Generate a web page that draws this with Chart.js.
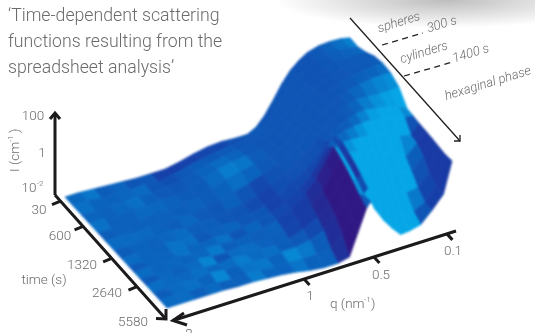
<!DOCTYPE html>
<html>
<head>
<meta charset="utf-8">
<title>Time-dependent scattering functions</title>
<script src="https://cdn.jsdelivr.net/npm/chart.js@4/dist/chart.umd.min.js"></script>
<style>
    html, body { margin: 0; padding: 0; background: #fff; }
    body {
        position: relative; width: 535px; height: 333px; overflow: hidden;
        background: radial-gradient(ellipse 170px 28px at 445px 0, #bdbdbd, rgba(255,255,255,0));
    }
    canvas { display: block; position: absolute; left: 0; top: 0; }
    #surfaceCanvas { filter: blur(.9px); }
</style>
</head>
<body>
<canvas id="surfaceCanvas" width="535" height="333"></canvas>
<canvas id="axesCanvas" width="535" height="333"></canvas>
<script>
// Position of every q column across the q axis (0 = q 2 nm-1, 1 = q 0.1 nm-1)
const qColumns = [0, .05, .1, .15, .2, .25, .3, .35, .4, .45, .5, .55, .6, .64, .67, .7, .715, .73, .76, .79, .82, .85, .89, .93, .97, 1];
// Position of every time row along the time axis (0 = 30 s, 1 = 5580 s)
const timeRows = [0, .08, .16, .24, .32, .4, .48, .56, .62, .68, .74, .8, .86, .93, 1];
// log10 of I (cm-1), one row per time
const logIntensity = [
    [-2.0, -2.0, -2.05, -2.1, -2.15, -2.2, -2.2, -2.2, -2.05, -1.85, -1.7, -1.65, -1.7, -1.7, -1.45, -.95, -.6, -.25, .5, 1.1, 1.5, 1.8, 1.98, 2.02, 1.98, 1.87],
    [-2.0, -1.95, -2.1, -2.0, -2.1, -2.05, -2.15, -2.0, -1.8, -1.65, -1.5, -1.4, -1.35, -1.25, -1.0, -.55, -.2, .1, .7, 1.2, 1.6, 1.85, 2.0, 2.02, 1.95, 1.85],
    [-2.0, -2.1, -1.95, -2.05, -1.95, -2.1, -1.95, -1.85, -1.6, -1.4, -1.25, -1.15, -1.1, -.95, -.65, -.2, .1, .4, .95, 1.35, 1.7, 1.9, 2.05, 2.1, 2.08, 2.05],
    [-2.0, -1.95, -2.1, -1.9, -2.05, -1.9, -1.95, -1.75, -1.5, -1.25, -1.05, -1.0, -.85, -.7, -.4, .05, .35, .65, 1.1, 1.5, 1.8, 2.0, 2.15, 2.2, 2.3, 2.33],
    [-2.0, -2.1, -1.95, -2.1, -1.9, -2.05, -1.85, -1.8, -1.55, -1.3, -1.1, -.95, -.75, -.55, -.25, .2, .5, .8, 1.25, 1.6, 1.9, 2.1, 2.25, 2.35, 2.42, 2.44],
    [-2.0, -1.9, -2.05, -1.9, -2.1, -1.9, -2.0, -1.85, -1.7, -1.5, -1.3, -1.05, -.7, -.45, -.1, .35, .65, .95, 1.4, 1.75, 2.0, 2.15, 2.3, 2.4, 2.42, 2.38],
    [-2.0, -2.05, -1.9, -2.05, -1.9, -2.05, -1.9, -2.0, -1.8, -1.7, -1.5, -1.15, -.7, -.4, -.05, .4, .75, 1.05, 1.5, 1.8, 2.0, 2.15, 2.1, 2.05, 2.05, 2.1],
    [-2.0, -1.9, -2.05, -1.85, -2.0, -1.95, -2.05, -1.85, -1.9, -1.7, -1.55, -1.2, -.7, -.3, .1, .55, .95, 1.25, 1.6, 1.85, 2.0, 2.05, 1.95, 1.85, 1.6, 1.4],
    [-2.0, -2.05, -1.9, -2.0, -1.85, -2.05, -1.9, -2.0, -1.85, -1.75, -1.55, -1.25, -.7, -.2, .4, 1.1, 1.5, 1.55, 1.7, 1.8, 1.85, 1.85, 1.75, 1.6, 1.4, 1.35],
    [-2.0, -1.9, -2.05, -1.85, -2.05, -1.9, -1.95, -2.0, -1.9, -1.8, -1.6, -1.25, -.6, .05, .8, 1.5, 1.38, 1.6, 1.6, 1.55, 1.5, 1.4, 1.2, .95, .8, 1.3],
    [-2.0, -2.05, -1.9, -2.05, -1.85, -2.0, -2.05, -1.9, -2.0, -1.85, -1.75, -1.45, -.9, -.3, .5, 1.3, 1.2, 1.4, 1.3, 1.2, 1.05, .85, .55, .15, .7, 1.28],
    [-2.0, -1.9, -2.05, -1.9, -2.0, -2.05, -1.9, -2.05, -1.95, -2.0, -1.9, -1.6, -1.2, -.6, .2, 1.05, .98, 1.18, 1.0, .8, .6, .25, -.15, -.3, .4, 1.25],
    [-2.0, -2.05, -1.9, -2.05, -1.9, -2.0, -2.05, -2.0, -2.1, -2.0, -2.0, -1.85, -1.55, -.9, -.1, .75, .7, .9, .65, .35, -.1, -.5, -.9, -.8, -.2, 1.2],
    [-2.0, -1.95, -2.05, -2.0, -2.05, -2.1, -2.0, -2.1, -2.2, -2.15, -2.2, -2.2, -2.15, -1.55, -.6, .35, .3, .55, .1, -.4, -1.05, -1.55, -1.5, -1.2, -.5, 1.15],
    [-2.0, -2.0, -2.0, -2.0, -2.0, -2.05, -2.05, -2.1, -2.15, -2.25, -2.4, -2.5, -2.5, -2.35, -1.15, .05, .35, -.15, -.9, -1.5, -2.0, -1.95, -1.8, -1.2, -.5, 1.2],
];
const timeTicks = ["30", "600", "1320", "2640"];
const timeTickAt = [.05, .255, .515, .745];
const qTicks = ["1", "0.5", "0.1"];
const qTickAt = [.463, .71, .968];

// Oblique view of the surface, in canvas pixels
function project(a, b, z) {
    return {
        x: 65 + 285 * a + 102 * b,
        y: 197 - 89.5 * a + 111 * b - 18 * (z + 2),
    };
}

function along(from, to, f) {
    return { x: from.x + (to.x - from.x) * f, y: from.y + (to.y - from.y) * f };
}

function mix(c1, c2, f) {
    const c = c1.map((v, i) => Math.round(v + (c2[i] - v) * f));
    return `rgb(${c[0]},${c[1]},${c[2]})`;
}

// Steep rising faces go dark, faces turned to the viewer go cyan
function shadeColor(s) {
    if (s >= 0) return mix([10, 100, 190], [6, 166, 230], Math.min(s, 1));
    if (s >= -1) return mix([10, 100, 190], [22, 62, 168], -s);
    return mix([22, 62, 168], [48, 24, 132], Math.min(-s - 1, 1));
}

function faceShade(slopeQ, slopeT, a, b) {
    if (slopeQ <= 0) return -.14 * slopeQ - .14 * slopeT;
    const w = Math.min(Math.max((slopeQ - 3) / 5, 0), 1);
    const s = -.07 * slopeQ + (1 - w) * -.14 * slopeT + w * .08 * slopeT;
    // Only the new peak's flank goes purple
    if (a > .8) return Math.max(s, -1.1);
    if (b < .56) return Math.max(s, -.4);
    return s;
}

const cellRows = timeRows.length - 1;
const cellCols = qColumns.length - 1;
const cellMeans = [];
let shades = [];
for (let j = 0; j < cellRows; j++) {
    shades.push([]);
    cellMeans.push([]);
    for (let i = 0; i < cellCols; i++) {
        const z00 = logIntensity[j][i], z10 = logIntensity[j][i + 1];
        const z01 = logIntensity[j + 1][i], z11 = logIntensity[j + 1][i + 1];
        const slopeQ = ((z10 - z00) + (z11 - z01)) / 2 / (qColumns[i + 1] - qColumns[i]);
        const slopeT = ((z01 - z00) + (z11 - z10)) / 2 / (timeRows[j + 1] - timeRows[j]);
        shades[j].push(faceShade(slopeQ, slopeT, qColumns[i], timeRows[j]));
        cellMeans[j].push((z00 + z10 + z01 + z11) / 4);
    }
}
// Mottled floor: a cell sitting lower than its neighbours looks darker
shades = shades.map((row, j) => row.map((s, i) => {
    if (i >= 11) return s;
    const m = cellMeans;
    const around = (m[Math.max(j - 1, 0)][i] + m[Math.min(j + 1, cellRows - 1)][i] + m[j][Math.max(i - 1, 0)] + m[j][i + 1]) / 4;
    return s + Math.max(Math.min(9 * (m[j][i] - around), .7), -.7);
}));
// Soften the facets on the big peak, leave the floor and the crease alone
shades = shades.map((row, j) => row.map((s, i) => {
    if (i < 11) return s;
    const up = shades[Math.max(j - 1, 0)][i], down = shades[Math.min(j + 1, cellRows - 1)][i];
    return (up + 2 * s + down) / 4;
}));
shades = shades.map((row) => row.map((s, i) => {
    if (i < 11 || (i >= 14 && i <= 17) || i === cellCols - 1) return s;
    return (row[i - 1] + 2 * s + row[i + 1]) / 4;
}));

function lineMark(data, color, width, dash) {
    return {
        data: data,
        showLine: true,
        borderColor: color,
        borderWidth: width,
        borderDash: dash || [],
        pointRadius: 0,
        fill: false,
        tension: 0,
    };
}

const surfaceMarks = [];

// Back to front, far side of every row first
for (let j = 0; j < cellRows; j++) {
    for (let i = cellCols - 1; i >= 0; i--) {
        const a0 = qColumns[i], a1 = qColumns[i + 1], b0 = timeRows[j], b1 = timeRows[j + 1];
        const color = shadeColor(shades[j][i]);
        const p = project(a0, b0, logIntensity[j][i]);
        surfaceMarks.push({
            data: [
                p,
                project(a1, b0, logIntensity[j][i + 1]),
                project(a1, b1, logIntensity[j + 1][i + 1]),
                project(a0, b1, logIntensity[j + 1][i]),
                p,
            ],
            showLine: true,
            borderColor: color,
            backgroundColor: color,
            borderWidth: .8,
            pointRadius: 0,
            fill: "shape",
            tension: 0,
        });
    }
}

// Axes
const axisMarks = [];
const axisColor = "#1c1a1a";
const iFrom = { x: 55, y: 195 }, iTo = { x: 55, y: 113 };
const timeFrom = { x: 55, y: 195 }, timeTo = { x: 165, y: 318 };
const qFrom = { x: 173, y: 320.5 }, qTo = { x: 456, y: 231 };
axisMarks.push(lineMark([iFrom, iTo], axisColor, 3));
axisMarks.push(lineMark([{ x: 50, y: 119 }, iTo, { x: 60, y: 119 }], axisColor, 3));
axisMarks.push(lineMark([timeFrom, timeTo], axisColor, 3));
axisMarks.push(lineMark([{ x: 156, y: 318.5 }, { x: 166, y: 319 }, { x: 166, y: 309 }], axisColor, 3));
axisMarks.push(lineMark([qFrom, qTo], axisColor, 3));
axisMarks.push(lineMark([{ x: 184, y: 313 }, qFrom, { x: 187, y: 325 }], axisColor, 3));
timeTickAt.forEach((f) => {
    const p = along(timeFrom, timeTo, f);
    axisMarks.push(lineMark([p, { x: p.x - 8.5, y: p.y + 3.5 }], axisColor, 3));
});
qTickAt.forEach((f) => {
    const p = along(qFrom, qTo, f);
    axisMarks.push(lineMark([p, { x: p.x + 5.5, y: p.y + 6 }], axisColor, 3));
});

// Phase arrow with the two transition marks
const phaseTo = { x: 460, y: 141 };
axisMarks.push(lineMark([{ x: 350, y: 18 }, phaseTo], "#231f20", 1.3));
axisMarks.push(lineMark([{ x: 454, y: 141 }, phaseTo, { x: 460, y: 135 }], "#231f20", 1.3));
axisMarks.push(lineMark([{ x: 382, y: 45 }, { x: 423, y: 33 }], "#231f20", 1.3, [6, 4.5]));
axisMarks.push(lineMark([{ x: 404, y: 76 }, { x: 451, y: 62.5 }], "#231f20", 1.3, [6, 4.5]));

// Text: [text, x, y, rotation in degrees, font, align]
const textColor = "#6b6b6b";
const plain = "300 13.5px Roboto";
const slanted = "italic 300 13px Roboto";
const titleFont = "300 17.7px Roboto";
const labels = [
    ["\u2018Time-dependent scattering", 8, 21, 0, titleFont, "left"],
    ["functions resulting from the", 8, 47, 0, titleFont, "left"],
    ["spreadsheet analysis\u2019", 8, 73, 0, titleFont, "left"],
    ["100", 33, 120, 0, plain, "center"],
    ["1", 42, 157, 0, plain, "center"],
    ["10", 29, 192, 0, plain, "center"],
    ["-2", 40, 186, 0, "300 8px Roboto", "center"],
    ["I (cm", 19, 172, -90, plain, "left"],
    ["-1", 13, 142, -90, "300 8px Roboto", "left"],
    [")", 19, 133, -90, plain, "left"],
    ["5580", 133, 326, 0, plain, "center"],
    ["time (s)", 44, 284, 0, plain, "center"],
    ["2", 189, 338, 0, plain, "center"],
    ["q (nm", 330, 308, 0, plain, "left"],
    ["-1", 364, 302, 0, "300 8px Roboto", "left"],
    [")", 371, 308, 0, plain, "left"],
    ["spheres", 400, 26, -17, slanted, "center"],
    ["300 s", 443, 28, -17, slanted, "center"],
    ["cylinders", 425, 56, -17, slanted, "center"],
    ["1400 s", 472, 57, -17, slanted, "center"],
    ["hexaginal phase", 489, 87, -17, slanted, "center"],
];
const timeTickText = [[39, 214], [60, 240], [82, 269], [107, 297]];
const qTickText = [[310, 300], [381, 279], [453, 255]];
timeTicks.forEach((t, i) => labels.push([t, timeTickText[i][0], timeTickText[i][1], 0, plain, "center"]));
qTicks.forEach((t, i) => labels.push([t, qTickText[i][0], qTickText[i][1], 0, plain, "center"]));

const textPlugin = {
    id: "chartText",
    afterDraw(chart) {
        const ctx = chart.ctx;
        labels.forEach(([text, x, y, angle, font, align]) => {
            ctx.save();
            ctx.translate(chart.scales.x.getPixelForValue(x), chart.scales.y.getPixelForValue(y));
            ctx.rotate(angle * Math.PI / 180);
            ctx.font = font;
            ctx.fillStyle = textColor;
            ctx.textAlign = align;
            ctx.textBaseline = "alphabetic";
            ctx.fillText(text, 0, 0);
            ctx.restore();
        });
    },
};

function makeChart(id, marks, plugins) {
    return new Chart(document.getElementById(id).getContext("2d"), {
        type: "scatter",
        // The first dataset is painted last
        data: { datasets: marks.slice().reverse() },
        options: {
            responsive: false,
            animation: false,
            parsing: false,
            normalized: true,
            layout: { padding: 0 },
            plugins: { legend: { display: false }, tooltip: { enabled: false }, title: { display: false } },
            scales: {
                x: { type: "linear", min: 0, max: 535, display: false },
                y: { type: "linear", min: 0, max: 333, reverse: true, display: false },
            },
        },
        plugins: plugins,
    });
}

makeChart("surfaceCanvas", surfaceMarks, []);
makeChart("axesCanvas", axisMarks, [textPlugin]);
</script>
</body>
</html>
